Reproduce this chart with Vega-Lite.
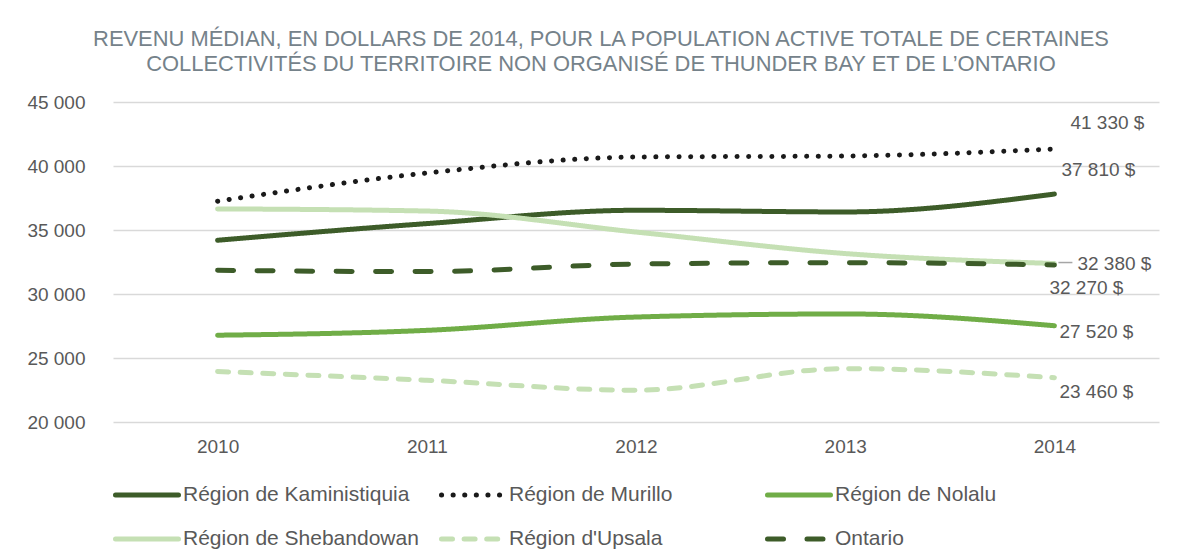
{
  "$schema": "https://vega.github.io/schema/vega-lite/v6.json",
  "width": 1046,
  "height": 320,
  "autosize": {"type": "none"},
  "padding": {"left": 113, "top": 102, "right": 18, "bottom": 128},
  "background": "white",
  "config": {
    "font": "Liberation Sans",
    "view": {"stroke": null}
  },
  "title": {
    "text": ["REVENU MÉDIAN, EN DOLLARS DE 2014, POUR LA POPULATION ACTIVE TOTALE DE CERTAINES", "COLLECTIVITÉS DU TERRITOIRE NON ORGANISÉ DE THUNDER BAY ET DE L’ONTARIO"],
    "anchor": "middle",
    "frame": "group",
    "dx": -35,
    "offset": 17,
    "fontSize": 21.9,
    "fontWeight": "normal",
    "lineHeight": 25,
    "color": "#75828a",
    "font": "Liberation Sans"
  },
  "data": {
    "values": [
      {"annee": "2010", "serie": "Région de Kaministiquia", "revenu": 34200},
      {"annee": "2011", "serie": "Région de Kaministiquia", "revenu": 35500},
      {"annee": "2012", "serie": "Région de Kaministiquia", "revenu": 36540},
      {"annee": "2013", "serie": "Région de Kaministiquia", "revenu": 36410},
      {"annee": "2014", "serie": "Région de Kaministiquia", "revenu": 37810},
      {"annee": "2010", "serie": "Région de Murillo", "revenu": 37250},
      {"annee": "2011", "serie": "Région de Murillo", "revenu": 39450},
      {"annee": "2012", "serie": "Région de Murillo", "revenu": 40700},
      {"annee": "2013", "serie": "Région de Murillo", "revenu": 40780},
      {"annee": "2014", "serie": "Région de Murillo", "revenu": 41330},
      {"annee": "2010", "serie": "Région de Nolalu", "revenu": 26780},
      {"annee": "2011", "serie": "Région de Nolalu", "revenu": 27160},
      {"annee": "2012", "serie": "Région de Nolalu", "revenu": 28200},
      {"annee": "2013", "serie": "Région de Nolalu", "revenu": 28440},
      {"annee": "2014", "serie": "Région de Nolalu", "revenu": 27520},
      {"annee": "2010", "serie": "Région de Shebandowan", "revenu": 36650},
      {"annee": "2011", "serie": "Région de Shebandowan", "revenu": 36480},
      {"annee": "2012", "serie": "Région de Shebandowan", "revenu": 34840},
      {"annee": "2013", "serie": "Région de Shebandowan", "revenu": 33160},
      {"annee": "2014", "serie": "Région de Shebandowan", "revenu": 32380},
      {"annee": "2010", "serie": "Région d'Upsala", "revenu": 23950},
      {"annee": "2011", "serie": "Région d'Upsala", "revenu": 23260},
      {"annee": "2012", "serie": "Région d'Upsala", "revenu": 22480},
      {"annee": "2013", "serie": "Région d'Upsala", "revenu": 24170},
      {"annee": "2014", "serie": "Région d'Upsala", "revenu": 23460},
      {"annee": "2010", "serie": "Ontario", "revenu": 31850},
      {"annee": "2011", "serie": "Ontario", "revenu": 31750},
      {"annee": "2012", "serie": "Ontario", "revenu": 32340},
      {"annee": "2013", "serie": "Ontario", "revenu": 32450},
      {"annee": "2014", "serie": "Ontario", "revenu": 32270}
    ]
  },
  "transform": [
    {"calculate": "replace(format(datum.revenu, ','), ',', ' ') + ' $'", "as": "etiquette"}
  ],
  "encoding": {
    "x": {
      "field": "annee", "type": "ordinal",
      "scale": {"type": "point", "padding": 0.5},
      "axis": {
        "title": null, "labelAngle": 0, "domain": false, "ticks": false,
        "labelFontSize": 19, "labelColor": "#595959", "labelPadding": 15,
        "labelFont": "Liberation Sans"
      }
    },
    "y": {
      "field": "revenu", "type": "quantitative",
      "scale": {"domain": [20000, 45000], "nice": false, "zero": false},
      "axis": {
        "title": null, "values": [20000, 25000, 30000, 35000, 40000, 45000],
        "labelExpr": "replace(format(datum.value, ','), ',', ' ')",
        "domain": false, "ticks": false, "gridColor": "#d9d9d9", "gridWidth": 1.5,
        "labelFontSize": 19, "labelColor": "#595959", "labelPadding": 28,
        "labelFont": "Liberation Sans"
      }
    }
  },
  "layer": [
    {
      "mark": {"type": "line", "interpolate": "monotone", "strokeWidth": 5, "strokeCap": "round", "strokeJoin": "round"},
      "encoding": {
        "color": {
          "field": "serie", "type": "nominal",
          "scale": {
            "domain": ["Région de Kaministiquia", "Région de Murillo", "Région de Nolalu", "Région de Shebandowan", "Région d'Upsala", "Ontario"],
            "range": ["#3d5c29", "#1a1a1a", "#70ad47", "#c5e0b4", "#c5e0b4", "#3d5c29"]
          },
          "legend": {
            "title": null, "orient": "bottom", "direction": "horizontal", "columns": 3,
            "gridAlign": "all", "columnPadding": 12, "rowPadding": -22, "offset": 5, "padding": 0,
            "symbolType": "stroke", "symbolSize": 3969, "symbolStrokeWidth": 5,
            "labelFontSize": 21, "labelColor": "#595959", "labelOffset": 2, "labelFont": "Liberation Sans",
            "labelLimit": 400,
            "encode": {"symbols": {"update": {"strokeCap": {"value": "round"}}}}
          }
        },
        "strokeDash": {
          "field": "serie", "type": "nominal",
          "scale": {
            "domain": ["Région de Kaministiquia", "Région de Murillo", "Région de Nolalu", "Région de Shebandowan", "Région d'Upsala", "Ontario"],
            "range": [[1, 0], [0.1, 11.5], [1, 0], [1, 0], [11, 11.6], [16, 23.5]]
          },
          "legend": null
        }
      }
    },
    {
      "transform": [{"filter": "datum.annee == '2014' && datum.serie == 'Région de Shebandowan'"}],
      "mark": {"type": "rule", "color": "#a6a6a6", "strokeWidth": 1.5, "xOffset": 4, "x2Offset": 18, "yOffset": -1, "y2Offset": -1},
      "encoding": {
        "x2": {"field": "annee"},
        "y2": {"field": "revenu"}
      }
    },
    {
      "transform": [{"filter": "datum.annee == '2014' && datum.serie == 'Région de Murillo'"}],
      "mark": {"type": "text", "align": "left", "baseline": "middle", "dx": 16, "dy": -26, "fontSize": 19, "color": "#595959"},
      "encoding": {"text": {"field": "etiquette"}}
    },
    {
      "transform": [{"filter": "datum.annee == '2014' && datum.serie == 'Région de Kaministiquia'"}],
      "mark": {"type": "text", "align": "left", "baseline": "middle", "dx": 7, "dy": -24, "fontSize": 19, "color": "#595959"},
      "encoding": {"text": {"field": "etiquette"}}
    },
    {
      "transform": [{"filter": "datum.annee == '2014' && datum.serie == 'Région de Shebandowan'"}],
      "mark": {"type": "text", "align": "left", "baseline": "middle", "dx": 23, "dy": 0, "fontSize": 19, "color": "#595959"},
      "encoding": {"text": {"field": "etiquette"}}
    },
    {
      "transform": [{"filter": "datum.annee == '2014' && datum.serie == 'Ontario'"}],
      "mark": {"type": "text", "align": "left", "baseline": "middle", "dx": -5, "dy": 23, "fontSize": 19, "color": "#595959"},
      "encoding": {"text": {"field": "etiquette"}}
    },
    {
      "transform": [{"filter": "datum.annee == '2014' && datum.serie == 'Région de Nolalu'"}],
      "mark": {"type": "text", "align": "left", "baseline": "middle", "dx": 5, "dy": 6, "fontSize": 19, "color": "#595959"},
      "encoding": {"text": {"field": "etiquette"}}
    },
    {
      "transform": [{"filter": "datum.annee == '2014' && datum.serie == \"Région d'Upsala\""}],
      "mark": {"type": "text", "align": "left", "baseline": "middle", "dx": 5, "dy": 14, "fontSize": 19, "color": "#595959"},
      "encoding": {"text": {"field": "etiquette"}}
    }
  ]
}
